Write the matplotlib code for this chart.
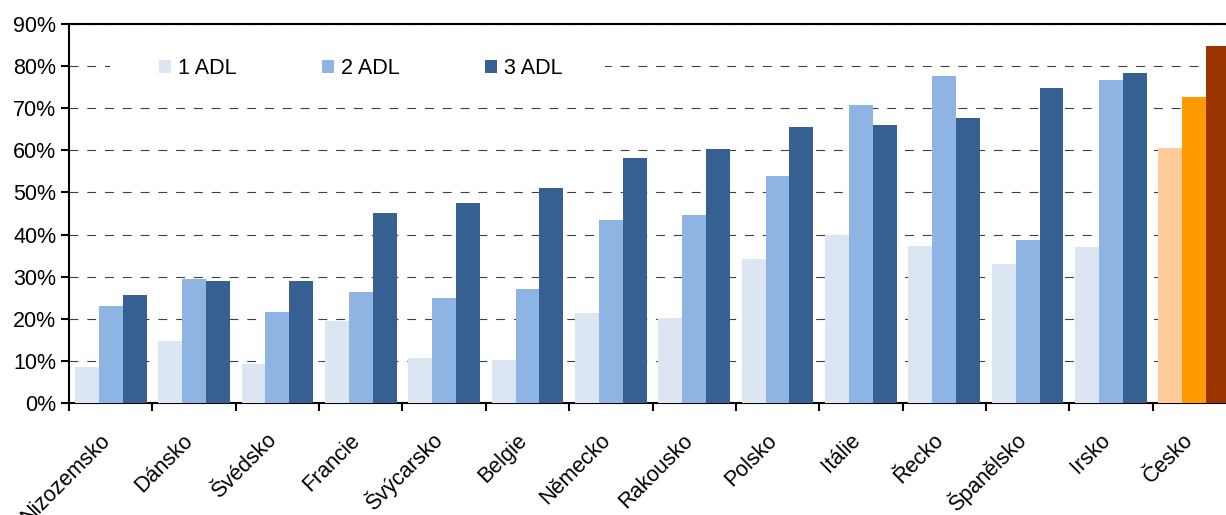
import matplotlib
matplotlib.use("Agg")
import matplotlib.pyplot as plt
from matplotlib.patches import Rectangle
from matplotlib.ticker import FuncFormatter, MultipleLocator
import numpy as np

plt.rcParams['font.family'] = ['Liberation Sans', 'DejaVu Sans']

countries = ["Nizozemsko", "Dánsko", "Švédsko", "Francie", "Švýcarsko", "Belgie",
             "Německo", "Rakousko", "Polsko", "Itálie", "Řecko", "Španělsko",
             "Irsko", "Česko"]
series_names = ["1 ADL", "2 ADL", "3 ADL"]
adl1 = [8.5, 14.7, 9.3, 19.5, 10.6, 10.1, 21.3, 20.2, 34.3, 40.0, 37.3, 33.0, 37.0, 60.6]
adl2 = [23.0, 29.4, 21.5, 26.3, 24.9, 27.1, 43.5, 44.6, 54.0, 70.8, 77.7, 38.8, 76.7, 72.7]
adl3 = [25.6, 28.9, 28.9, 45.2, 47.5, 51.0, 58.2, 60.3, 65.6, 66.0, 67.7, 74.8, 78.4, 84.8]

blue_colors = ["#DCE6F2", "#8EB4E3", "#366092"]
cz_colors = ["#FFCC99", "#FF9900", "#993300"]
fs = 15.5

fig = plt.figure(figsize=(12.26, 5.15), dpi=100)
ax = fig.add_axes([69 / 1226, 112 / 515, 1167 / 1226, 379 / 515])

x = np.arange(len(countries))
w = 0.287
for i, (vals, name) in enumerate(zip([adl1, adl2, adl3], series_names)):
    cols = [blue_colors[i]] * (len(countries) - 1) + [cz_colors[i]]
    ax.bar(x + (i - 1) * w, vals, w, color=cols, label=name, zorder=3)

ax.set_xlim(-0.5, len(countries) - 0.5)
ax.set_ylim(0, 90)
ax.yaxis.set_major_locator(MultipleLocator(10))
ax.yaxis.set_major_formatter(FuncFormatter(lambda v, p: f"{v:.0f}%"))
ax.set_axisbelow(True)
ax.yaxis.grid(True, color="#404040", linewidth=0.8, linestyle=(0, (8, 8)))

ax.set_xticks(x)
ax.set_xticklabels(countries, rotation=45, ha="right", va="baseline", rotation_mode="anchor")
ax.set_xticks(np.arange(len(countries)) - 0.5, minor=True)
ax.tick_params(axis="x", which="major", length=0, pad=27.5, labelsize=fs)
ax.tick_params(axis="x", which="minor", length=6, width=1.5, direction="out")
ax.tick_params(axis="y", length=6, width=1.5, direction="out", labelsize=fs, pad=3)

for s in ["left", "bottom", "top"]:
    ax.spines[s].set_linewidth(1.5)
ax.spines["right"].set_visible(False)

# white box behind the legend hides the gridline there
ax.add_patch(Rectangle(((110 - 69) / 1167, (403 - 82) / 379), 495 / 1167, 26 / 379,
                       transform=ax.transAxes, facecolor="white", edgecolor="none", zorder=2))

h, l = ax.get_legend_handles_labels()
for hh, c in zip(h, blue_colors):
    hh.patches[0].set_facecolor(c)
leg = ax.legend(h, l, ncol=3, loc="center left",
                bbox_to_anchor=((159 - 69) / 1167, (403 - 69) / 379),
                frameon=False, fontsize=fs, borderpad=0, borderaxespad=0,
                handlelength=0.56, handleheight=0.56, handletextpad=0.33,
                columnspacing=3.95)
leg.set_zorder(4)

fig.savefig("out.png", dpi=100)
